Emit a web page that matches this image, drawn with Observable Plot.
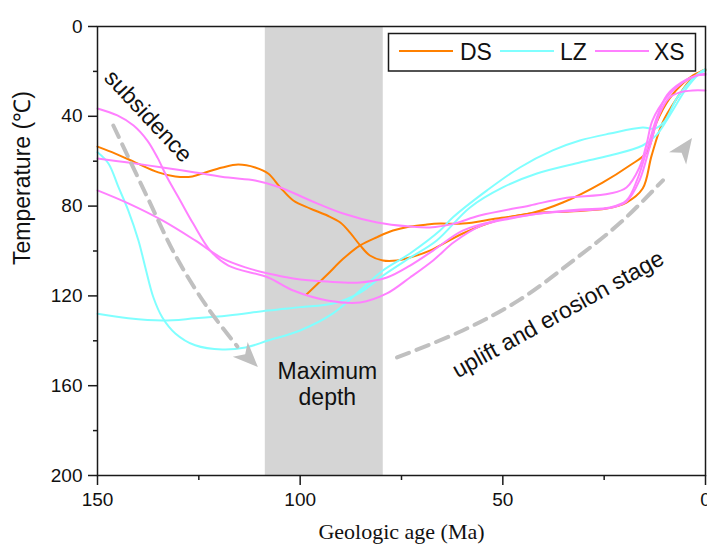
<!DOCTYPE html>
<html><head><meta charset="utf-8">
<script src="https://cdn.jsdelivr.net/npm/d3@7"></script>
<script src="https://cdn.jsdelivr.net/npm/@observablehq/plot@0.6"></script>
<style>
body{margin:0;background:#fff}
#wrap{position:relative;width:707px;height:548px}
#legend{position:absolute;left:0;top:0;pointer-events:none}
</style>
</head><body><div id="wrap"></div>
<script>
// ---- data (age Ma, temperature °C) ----
const dsA = [[150,53.5],[145.6,56.6],[140.6,60.6],[135,65],[130.8,66.8],[126.6,66.8],[123.4,65],[119.2,62.8],[115.3,61.5],[111.1,62.8],[107.9,65.5],[104.9,71.7],[101.7,77.5],[97.5,81.1],[93.3,84.2],[90.1,87.3],[87.7,91.8],[85.2,97.5],[82.8,102],[79.6,104.2],[76.1,104.2],[72.9,102.9],[68,99.8],[59.9,92.2],[51.5,86.4],[43.3,83.3],[33.5,82.4],[24.4,81.1],[19.5,78.4],[15.5,72.2],[13.3,57.5],[10.6,42.8],[7.1,32.1],[3.9,24.1],[0.7,19.6],[0,19.2]];
const dsB = [[98.5,119.5],[93.3,110.5],[89.4,103.5],[85.2,97.5],[81,93.8],[77.1,90.9],[72.9,89.1],[68.7,88.2],[65.5,87.8],[59.9,87.8],[51.5,85.5],[43.3,83.3],[35.2,78.4],[25.4,69.5],[18.7,61.9],[14.5,56.1],[12.1,42.8],[8.9,32.1],[5.6,25.4],[2.2,20.9],[0,19.6]];
const lzA = [[150,56],[147.3,61],[144.8,71.7],[142.4,82],[139.9,95.3],[138.2,107.3],[136.2,120.7],[134,129.6],[130.8,136.7],[125.9,142],[119.2,143.9],[113.5,143],[107.9,139.9],[100,135.4],[91.9,127.8],[85.2,117.6],[79.6,108.7],[72.9,101.1],[65.5,90.9],[62.3,85],[53.9,73],[45.8,62.8],[37.7,55.2],[31,50.8],[23.6,47.7],[15.5,45],[12.5,45.5],[10,42],[7.1,32],[3.2,23.2],[0.7,19.6],[0,19]];
const lzB = [[150,128],[142.4,130],[134,131],[125.9,130],[117.7,128.7],[107.9,126.5],[100,125],[91.9,123.4],[85.2,118.5],[79.6,111],[72.9,103],[66.3,95.3],[58.1,80.6],[50,71.7],[41.6,65.5],[31,60.6],[23.6,57.5],[15.5,53],[12.1,48.4],[8.9,39.8],[4.7,27.6],[1.5,21],[0,19.6]];
const xsA = [[150,36.5],[145.1,39.6],[141.1,44.1],[137.7,50.8],[135.2,58.4],[132.8,67.3],[129.6,77.5],[126.4,87.8],[122.2,99.8],[117.7,106.5],[107.9,111.8],[101.7,117.6],[93.3,122],[85.2,122.9],[78.6,118.9],[72.9,111.8],[67.2,104.2],[62,96],[55,88.5],[48,85.5],[40.9,83.3],[31,82],[23.6,80.8],[19.5,78],[16.3,68.6],[13.8,53.9],[11.3,38.8],[8.9,31.6],[6.4,29.4],[3.2,28.5],[0,28.5]];
const xsB = [[150,58.8],[142.4,60.6],[134,62.8],[125.9,65],[117.7,67.3],[111.1,68.6],[104.9,71.7],[97.5,77.5],[89.4,83.3],[81,87.3],[72.9,89.1],[68,89.5],[62,87.8],[55.7,84.2],[43.3,79.7],[35.2,76.6],[23.6,74.4],[19.5,71.7],[16.3,62.8],[14.5,52.1],[13.1,41.9],[9.6,31.6],[5.6,24.9],[2.2,21.8],[0,21]];
const xsC = [[150,73],[142.4,78.8],[134,86.4],[125.9,95.3],[119.2,103.3],[113.5,107.3],[107.9,110],[101.7,112.2],[93.3,113.6],[85.2,114],[78.6,111.8],[72.9,106.5],[67.2,99.8],[59.9,90.9],[51.5,86.4],[40.9,83.3],[31,81.5],[23.6,80.6],[19.5,77.5],[16.8,68],[14.3,54],[12,40.5],[9.5,30.5],[6,25],[2.5,22],[0,21.5]];

const seriesNames = ["DS", "LZ", "XS"];
const seriesColors = ["#ff8000", "#80ffff", "#ff80ff"];
const curves = [["DS","dsA",dsA],["DS","dsB",dsB],["LZ","lzA",lzA],["LZ","lzB",lzB],["XS","xsA",xsA],["XS","xsB",xsB],["XS","xsC",xsC]];

const xTicks = [150, 100, 50, 0];
const xMinor = [125, 75, 25];
const yTicks = [0, 40, 80, 120, 160, 200];
const yMinor = [20, 60, 100, 140, 180];

// maximum-depth band (Ma)
const band = [{from: 108.6, to: 79.5}];

// annotation arrows (Ma, °C): body path, last point is the tip
const arrowSubsidence = [[146.1,44.1],[137.9,75.3],[130.5,102.9],[122.7,125.6],[115.5,142.5],[110.3,151.9]];
const arrowUplift = [[76.1,147.4],[59.9,135.4],[46.1,122],[32.3,103.8],[20.7,86.9],[10.5,68.5],[3.2,49.9]];

const labels = [
  {age: 137.3, temp: 39.6, text: "subsidence", rotate: 47},
  {age: 93.3, temp: 159, text: "Maximum\ndepth", rotate: 0},
  {age: 36.5, temp: 127.8, text: "uplift and erosion stage", rotate: -29}
];

// ---- build rows ----
const rows = curves.flatMap(([series, id, arr]) => arr.map(([age, temp]) => ({series, id, age, temp})));
const arrowRows = [["s", arrowSubsidence], ["u", arrowUplift]]
  .flatMap(([id, arr]) => arr.slice(0, -1).map(([age, temp]) => ({id, age, temp})));

const sans = "Arial, 'Liberation Sans', sans-serif";
const gray = "#c0c0c0";

function arrowHeads(index, scales) {
  const g = d3.create("svg:g");
  for (const path of [arrowSubsidence, arrowUplift]) {
    const [ax, ay] = [scales.x(path[path.length-2][0]), scales.y(path[path.length-2][1])];
    const [tx, ty] = [scales.x(path[path.length-1][0]), scales.y(path[path.length-1][1])];
    const len = Math.hypot(tx-ax, ty-ay), dx = (tx-ax)/len, dy = (ty-ay)/len;
    const L = 25, W = 10.5, nx = -dy, ny = dx;
    const bx = tx - L*dx, by = ty - L*dy;
    const mx = tx - 0.72*L*dx, my = ty - 0.72*L*dy;
    g.append("path")
      .attr("d", `M${tx},${ty}L${bx+W*nx},${by+W*ny}L${mx},${my}L${bx-W*nx},${by-W*ny}Z`)
      .attr("fill", gray);
  }
  return g.node();
}

const lineMarks = seriesNames.map((s, i) =>
  Plot.line(rows.filter(d => d.series === s), {x: "age", y: "temp", z: "id", stroke: seriesColors[i], strokeWidth: 2, curve: "catmull-rom"}));

const chart = Plot.plot({
  width: 707, height: 548,
  marginLeft: 97, marginRight: 2, marginTop: 26, marginBottom: 73,
  style: {fontFamily: sans, fontSize: "19px", background: "#fff", color: "#111"},
  x: {domain: [150, 0], label: null},
  y: {domain: [0, 200], reverse: true, label: null},
  marks: [
    Plot.rect(band, {x1: "from", x2: "to", fill: "#d5d5d5"}),
    ...lineMarks,
    Plot.line(arrowRows, {x: "age", y: "temp", z: "id", stroke: gray, strokeWidth: 4, strokeDasharray: "13,8", curve: "catmull-rom"}),
    arrowHeads,
    Plot.text(labels, {x: "age", y: "temp", text: "text", rotate: "rotate", fontSize: 23, lineHeight: 1.15, fill: "#111"}),
    Plot.frame({stroke: "#1a1a1a", strokeWidth: 1.5}),
    Plot.axisX({ticks: xTicks, tickSize: 10, tickPadding: 7, tickFormat: d => String(d), fontSize: 19, stroke: "#1a1a1a", strokeWidth: 1.5, label: null}),
    Plot.axisX({ticks: xMinor, tickSize: 5, tickFormat: () => "", stroke: "#1a1a1a", strokeWidth: 1.5, label: null}),
    Plot.axisY({ticks: yTicks, tickSize: 9, tickPadding: 6, tickFormat: d => String(d), fontSize: 19, stroke: "#1a1a1a", strokeWidth: 1.5, label: null}),
    Plot.axisY({ticks: yMinor, tickSize: 4, tickFormat: () => "", stroke: "#1a1a1a", strokeWidth: 1.5, label: null}),
    Plot.text(["Geologic age (Ma)"], {frameAnchor: "bottom", dy: 63, text: d => d, fontFamily: "'Liberation Serif', 'Times New Roman', serif", fontSize: 22, fill: "#111"}),
    Plot.text(["Temperature (℃)"], {frameAnchor: "left", dx: -75, dy: 14, rotate: -90, text: d => d, fontSize: 23, fill: "#111"})
  ]
});
const wrap = document.getElementById("wrap");
wrap.appendChild(chart);

// ---- legend overlay ----
const leg = d3.select(wrap).append("svg").attr("id", "legend").attr("width", 707).attr("height", 80);
leg.append("rect").attr("x", 388.5).attr("y", 33.5).attr("width", 307).attr("height", 37.5)
  .attr("fill", "#fff").attr("stroke", "#1a1a1a").attr("stroke-width", 1.5);
const swX = [399, 500, 595], txX = [460, 560, 654];
seriesNames.forEach((s, i) => {
  leg.append("line").attr("x1", swX[i]).attr("x2", swX[i] + 54).attr("y1", 51).attr("y2", 51)
    .attr("stroke", seriesColors[i]).attr("stroke-width", 2);
  leg.append("text").attr("x", txX[i]).attr("y", 59.5).attr("font-family", sans).attr("font-size", 23)
    .attr("fill", "#111").text(s);
});
</script>
</body></html>
